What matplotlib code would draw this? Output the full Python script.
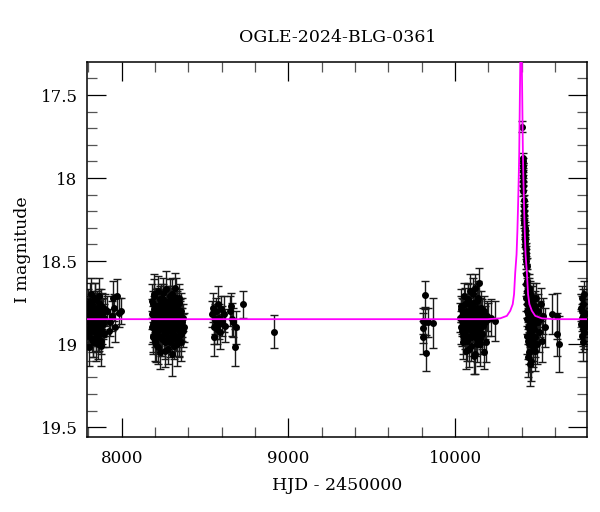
import matplotlib
matplotlib.use('Agg')
import matplotlib.pyplot as plt
import numpy as np
from matplotlib.ticker import MultipleLocator, FuncFormatter

plt.rcParams['font.family'] = ['DejaVu Serif']

#.........OGLE photometry, season by season (HJD-2450000, I mag, error).........
s1_hjd = [7797, 7800, 7802, 7805, 7807, 7809, 7811, 7813, 7815, 7817, 7819, 7821, 7823, 7825, 7827, 7829,
          7831, 7833, 7835, 7837, 7839, 7841, 7843, 7845, 7847, 7849, 7851, 7853, 7855, 7857, 7859, 7861,
          7863, 7865, 7867, 7869, 7871, 7873, 7875, 7877, 7879, 7881, 7883, 7885, 7888, 7891, 7894, 7898,
          7912, 7922, 7932, 7940, 7948, 7955, 7962, 7972, 7984, 7996]
s1_mag = [18.84, 18.91, 18.78, 18.87, 18.95, 18.82, 18.74, 18.88, 18.92, 18.80,
          18.86, 18.97, 18.83, 18.76, 18.90, 18.85, 18.99, 18.81, 18.87, 18.79,
          18.93, 18.84, 18.72, 18.89, 18.96, 18.82, 18.86, 18.78, 18.91, 19.00,
          18.84, 18.80, 18.88, 18.75, 18.94, 18.86, 18.83, 18.90, 18.77, 18.87,
          18.98, 18.82, 18.85, 18.92, 18.80, 18.88, 18.84, 18.79,
          18.80, 18.92, 18.87, 18.83, 18.72, 18.78, 18.90, 18.71, 18.81, 18.80]
s1_err = [0.08, 0.09, 0.07, 0.10, 0.08, 0.09, 0.11, 0.08, 0.07, 0.09,
          0.10, 0.08, 0.09, 0.07, 0.08, 0.10, 0.09, 0.08, 0.11, 0.09,
          0.08, 0.07, 0.09, 0.10, 0.08, 0.09, 0.08, 0.10, 0.07, 0.09,
          0.08, 0.11, 0.09, 0.08, 0.10, 0.07, 0.09, 0.08, 0.10, 0.09,
          0.08, 0.09, 0.07, 0.10, 0.08, 0.09, 0.08, 0.09,
          0.09, 0.10, 0.08, 0.09, 0.10, 0.08, 0.09, 0.10, 0.09, 0.08]
# second run of the same season (several frames per night)
s1b_hjd = [7798, 7801, 7804, 7806, 7810, 7814, 7818, 7822, 7826, 7830, 7834, 7838, 7842, 7846, 7850,
           7854, 7858, 7862, 7866, 7870, 7874, 7878, 7882, 7887, 7893]
s1b_mag = [18.76, 18.93, 18.86, 19.02, 18.81, 18.70, 18.89, 18.84, 18.97, 18.78, 18.92, 18.85, 18.73,
           18.99, 18.88, 18.80, 18.95, 18.83, 18.71, 18.90, 18.86, 19.01, 18.79, 18.87, 18.94]
s1b_err = [0.09, 0.10, 0.08, 0.11, 0.09, 0.10, 0.08, 0.09, 0.11, 0.10, 0.09, 0.08, 0.10, 0.11, 0.09,
           0.08, 0.10, 0.09, 0.11, 0.08, 0.09, 0.12, 0.10, 0.09, 0.08]

s2_hjd = [8182, 8185, 8188, 8191, 8194, 8197, 8200, 8203, 8206, 8209, 8212, 8215, 8218, 8221, 8224, 8227,
          8230, 8233, 8236, 8239, 8242, 8245, 8248, 8251, 8254, 8257, 8260, 8263, 8266, 8269, 8272, 8275,
          8278, 8281, 8284, 8287, 8290, 8293, 8296, 8299, 8302, 8305, 8308, 8311, 8314, 8317, 8320, 8323,
          8326, 8329, 8332, 8335, 8338, 8341, 8344, 8347, 8350, 8353, 8356, 8359, 8362, 8366, 8370, 8376]
s2_mag = [18.82, 18.90, 18.76, 18.95, 18.85, 18.71, 18.88, 18.98, 18.80, 18.86,
          18.93, 18.77, 18.84, 19.02, 18.79, 18.89, 18.73, 18.87, 18.96, 18.83,
          18.78, 18.91, 18.85, 18.69, 18.94, 18.81, 18.88, 19.04, 18.76, 18.86,
          18.92, 18.80, 18.84, 18.97, 18.74, 18.89, 18.83, 18.99, 18.78, 18.87,
          18.70, 18.93, 18.85, 18.81, 19.01, 18.77, 18.90, 18.84, 18.72, 18.95,
          18.86, 18.79, 18.91, 18.83, 18.98, 18.75, 18.88, 18.82, 18.94, 18.80,
          18.87, 18.92, 18.84, 18.90]
s2_err = [0.09, 0.10, 0.08, 0.11, 0.09, 0.10, 0.08, 0.12, 0.09, 0.10,
          0.08, 0.11, 0.09, 0.10, 0.12, 0.09, 0.08, 0.10, 0.11, 0.09,
          0.10, 0.08, 0.12, 0.09, 0.10, 0.11, 0.09, 0.10, 0.08, 0.12,
          0.09, 0.11, 0.10, 0.08, 0.09, 0.12, 0.10, 0.09, 0.11, 0.08,
          0.10, 0.09, 0.12, 0.10, 0.08, 0.11, 0.09, 0.10, 0.12, 0.09,
          0.08, 0.10, 0.11, 0.09, 0.10, 0.08, 0.12, 0.09, 0.10, 0.11,
          0.09, 0.10, 0.08, 0.09]
s2b_hjd = [8184, 8187, 8190, 8193, 8196, 8199, 8202, 8205, 8208, 8211, 8214, 8217, 8220, 8223, 8226,
           8229, 8232, 8235, 8238, 8241, 8244, 8247, 8250, 8253, 8256, 8259, 8262, 8265, 8268, 8271,
           8274, 8277, 8280, 8283, 8286, 8289, 8292, 8295, 8298, 8301, 8304, 8307, 8310, 8313, 8316,
           8319, 8322, 8325, 8328, 8331, 8334, 8337, 8340, 8343, 8346, 8349, 8352, 8355, 8358, 8364]
s2b_mag = [18.74, 18.96, 18.88, 18.79, 18.70, 18.92, 18.84, 19.00, 18.77, 18.89,
           18.83, 18.68, 18.95, 18.86, 18.80, 19.05, 18.90, 18.75, 18.87, 18.82,
           18.97, 18.73, 18.85, 18.91, 18.79, 18.99, 18.84, 18.67, 18.93, 18.81,
           18.88, 19.03, 18.76, 18.86, 18.90, 18.71, 18.96, 18.83, 18.79, 19.06,
           18.87, 18.74, 18.92, 18.85, 18.80, 18.97, 18.66, 18.89, 18.83, 19.00,
           18.78, 18.91, 18.86, 18.72, 18.95, 18.84, 18.81, 18.99, 18.88, 18.85]
s2b_err = [0.10, 0.09, 0.11, 0.08, 0.12, 0.10, 0.09, 0.11, 0.10, 0.13,
           0.10, 0.09, 0.11, 0.08, 0.12, 0.10, 0.09, 0.11, 0.10, 0.13,
           0.10, 0.09, 0.11, 0.08, 0.12, 0.10, 0.09, 0.11, 0.10, 0.13,
           0.10, 0.09, 0.11, 0.08, 0.12, 0.10, 0.09, 0.11, 0.10, 0.13,
           0.10, 0.09, 0.11, 0.08, 0.12, 0.10, 0.09, 0.11, 0.10, 0.13,
           0.10, 0.09, 0.11, 0.08, 0.12, 0.10, 0.09, 0.11, 0.10, 0.13]

s3_hjd = [8542, 8547, 8552, 8555, 8560, 8564, 8568, 8572, 8577, 8582, 8587, 8592, 8598, 8604, 8612, 8620,
          8652, 8658, 8664, 8670, 8680, 8686, 8730]
s3_mag = [18.82, 18.78, 18.90, 18.96, 18.85, 18.80, 18.87, 18.91, 18.76, 18.84,
          18.88, 18.93, 18.79, 18.86, 18.82, 18.89, 18.80, 18.77, 18.85, 18.87,
          19.02, 18.90, 18.76]
s3_err = [0.08, 0.09, 0.10, 0.11, 0.09, 0.08, 0.10, 0.09, 0.11, 0.08,
          0.09, 0.10, 0.08, 0.09, 0.11, 0.10, 0.09, 0.08, 0.10, 0.09,
          0.11, 0.10, 0.08]

s4_hjd = [8914]
s4_mag = [18.925]
s4_err = [0.10]

s5_hjd = [9806, 9808, 9810, 9820, 9822, 9824, 9840, 9866]
s5_mag = [18.86, 18.905, 18.96, 18.705, 18.865, 19.055, 18.87, 18.875]
s5_err = [0.08, 0.09, 0.10, 0.085, 0.09, 0.11, 0.09, 0.15]

s6_hjd = [10030, 10034, 10038, 10042, 10046, 10050, 10054, 10058, 10062, 10066, 10070,
          10073, 10076, 10079, 10082, 10085, 10088, 10091, 10094, 10097, 10100, 10103, 10106, 10109, 10112,
          10115, 10118, 10121, 10124, 10127, 10130, 10133, 10136, 10139, 10142, 10145, 10148, 10151, 10154,
          10157, 10160, 10164, 10168, 10172, 10176, 10180, 10185, 10190, 10200, 10215, 10242]
s6_mag = [18.84, 18.79, 18.90, 18.86, 18.95, 18.81, 18.88, 18.76, 18.92, 18.85,
          18.98, 18.83, 18.73, 18.89, 18.87, 19.03, 18.80, 18.91, 18.84, 18.77,
          18.96, 18.86, 18.82, 18.70, 18.93, 18.88, 19.06, 18.79, 18.85, 18.90,
          18.74, 18.97, 18.83, 18.87, 18.63, 18.92, 18.81, 19.00, 18.86, 18.78,
          18.94, 18.84, 18.89, 19.05, 18.80, 18.87, 18.99, 18.83, 18.85, 18.84,
          18.86]
s6_err = [0.09, 0.08, 0.10, 0.09, 0.11, 0.08, 0.09, 0.10, 0.08, 0.09,
          0.12, 0.09, 0.10, 0.08, 0.09, 0.11, 0.10, 0.08, 0.09, 0.10,
          0.11, 0.09, 0.08, 0.10, 0.09, 0.08, 0.12, 0.10, 0.09, 0.08,
          0.10, 0.09, 0.11, 0.08, 0.09, 0.10, 0.09, 0.13, 0.08, 0.10,
          0.09, 0.11, 0.08, 0.10, 0.09, 0.10, 0.12, 0.09, 0.10, 0.11,
          0.12]
s6b_hjd = [10036, 10040, 10044, 10048, 10052, 10056, 10060, 10064, 10068, 10072, 10075, 10078, 10081,
           10084, 10087, 10090, 10093, 10096, 10099, 10102, 10105, 10108, 10111, 10114, 10117, 10120,
           10123, 10126, 10129, 10132, 10135, 10138, 10141, 10146, 10152]
s6b_mag = [18.77, 18.92, 18.83, 18.99, 18.71, 18.87, 18.94, 18.80, 19.04, 18.85,
           18.74, 18.90, 18.82, 18.96, 18.68, 18.88, 19.01, 18.79, 18.86, 18.93,
           18.75, 18.84, 19.07, 18.81, 18.89, 18.66, 18.95, 18.83, 18.78, 19.00,
           18.87, 18.72, 18.91, 18.85, 18.97]
s6b_err = [0.10, 0.09, 0.11, 0.10, 0.08, 0.12, 0.09, 0.10, 0.11, 0.09,
           0.10, 0.08, 0.12, 0.09, 0.10, 0.11, 0.09, 0.10, 0.08, 0.12,
           0.09, 0.10, 0.11, 0.09, 0.10, 0.08, 0.12, 0.09, 0.10, 0.11,
           0.09, 0.10, 0.08, 0.12, 0.09]

# the event: bright points on the decline, then the noisy tail
s7_hjd = [10404, 10405, 10406, 10406, 10407, 10407, 10408, 10408, 10409, 10411, 10412, 10413, 10414,
          10415, 10416, 10417, 10418, 10419, 10420, 10421, 10422, 10423, 10424, 10425, 10427, 10429,
          10425, 10428, 10430, 10432, 10434, 10436, 10438, 10440, 10442, 10444,
          10446, 10448, 10450, 10452, 10454, 10456, 10458, 10460, 10462, 10465,
          10468, 10471, 10474, 10477, 10480, 10484, 10488, 10492, 10496, 10500,
          10505, 10510, 10516, 10522, 10530, 10540, 10580, 10610, 10614, 10624]
s7_mag = [17.69, 17.88, 17.90, 17.93, 17.96, 17.99, 18.02, 18.05, 18.08, 18.13, 18.17, 18.20, 18.22,
          18.25, 18.27, 18.30, 18.32, 18.34, 18.36, 18.38, 18.41, 18.43, 18.45, 18.47, 18.50, 18.53,
          18.58, 18.72, 18.62, 18.80, 18.68, 18.90, 18.75, 18.98, 18.66, 18.85,
          19.05, 18.78, 18.92, 18.70, 18.88, 19.10, 18.82, 18.95, 18.74, 18.86,
          19.02, 18.80, 18.91, 18.77, 18.96, 18.84, 18.72, 19.00, 18.87, 18.80,
          18.93, 18.85, 18.76, 18.98, 18.83, 18.90, 18.82, 18.94, 18.83, 19.00]
s7_err = [0.035, 0.03, 0.02, 0.02, 0.02, 0.025, 0.02, 0.025, 0.03, 0.025, 0.03, 0.03, 0.03,
          0.03, 0.03, 0.035, 0.035, 0.03, 0.04, 0.035, 0.04, 0.04, 0.04, 0.045, 0.05, 0.05,
          0.06, 0.08, 0.07, 0.09, 0.08, 0.10, 0.09, 0.11, 0.08, 0.10,
          0.12, 0.09, 0.10, 0.08, 0.11, 0.12, 0.10, 0.11, 0.09, 0.10,
          0.12, 0.10, 0.11, 0.09, 0.12, 0.10, 0.09, 0.12, 0.11, 0.10,
          0.12, 0.11, 0.10, 0.13, 0.11, 0.12, 0.12, 0.13, 0.14, 0.17]
s7b_hjd = [10426, 10429, 10431, 10433, 10435, 10437, 10439, 10441, 10443, 10445, 10447, 10449, 10451,
           10453, 10457, 10461, 10466, 10470, 10476, 10482]
s7b_mag = [18.64, 18.85, 18.76, 18.95, 18.70, 19.08, 18.82, 18.68, 18.90, 19.00, 18.74, 18.87, 19.12,
           18.79, 18.93, 18.84, 18.98, 18.72, 18.88, 19.04]
s7b_err = [0.07, 0.09, 0.08, 0.11, 0.08, 0.12, 0.09, 0.08, 0.10, 0.12, 0.09, 0.10, 0.13,
           0.09, 0.11, 0.10, 0.12, 0.09, 0.10, 0.12]

s8_hjd = [10756, 10758, 10760, 10761, 10762, 10764, 10765, 10766, 10768, 10769, 10770, 10772, 10773,
          10774, 10776, 10778, 10780, 10782]
s8_mag = [18.78, 18.88, 18.72, 18.95, 18.84, 18.80, 18.91, 18.86, 18.76, 18.99,
          18.83, 18.89, 18.70, 18.93, 18.85, 18.81, 18.87, 18.90]
s8_err = [0.08, 0.09, 0.07, 0.10, 0.08, 0.09, 0.10, 0.08, 0.09, 0.11,
          0.08, 0.09, 0.08, 0.10, 0.09, 0.08, 0.09, 0.10]

model_hjd = [7794, 10196, 10271, 10311, 10331, 10346, 10354, 10361, 10369, 10374, 10378, 10382, 10385,
             10387, 10389, 10391.5, 10393, 10396, 10399, 10400.5, 10403, 10405, 10407, 10410, 10414,
             10418, 10423, 10431, 10438, 10446, 10461, 10481, 10521, 10596, 10794]
model_mag = [18.85, 18.85, 18.845, 18.83, 18.80, 18.76, 18.70, 18.57, 18.46, 18.32, 18.17, 18.00, 17.85,
             17.68, 17.50, 17.30, 17.22, 17.05, 17.22, 17.30, 17.50, 17.68, 17.85, 18.00, 18.17,
             18.32, 18.46, 18.57, 18.70, 18.76, 18.80, 18.83, 18.845, 18.85, 18.85]

hjd = np.concatenate([s1_hjd, s1b_hjd, s2_hjd, s2b_hjd, s3_hjd, s4_hjd, s5_hjd,
                      s6_hjd, s6b_hjd, s7_hjd, s7b_hjd, s8_hjd])
mag = np.concatenate([s1_mag, s1b_mag, s2_mag, s2b_mag, s3_mag, s4_mag, s5_mag,
                      s6_mag, s6b_mag, s7_mag, s7b_mag, s8_mag])
err = np.concatenate([s1_err, s1b_err, s2_err, s2b_err, s3_err, s4_err, s5_err,
                      s6_err, s6b_err, s7_err, s7b_err, s8_err])

fig = plt.figure(figsize=(6.0, 5.12), dpi=100)
ax = fig.add_axes([0.1455, 0.147, 0.8335, 0.731])

ax.errorbar(hjd, mag, yerr=err, fmt='o', ms=4.0, color='black', ecolor='#1a1a1a',
            elinewidth=1.0, capsize=2.6, capthick=1.0, zorder=2)
ax.plot(model_hjd, model_mag, color='#ff00ff', lw=1.3, zorder=3)

ax.set_xlim(7794, 10794)
ax.set_ylim(19.558, 17.304)

ax.xaxis.set_major_locator(MultipleLocator(1000))
ax.xaxis.set_minor_locator(MultipleLocator(200))
ax.yaxis.set_major_locator(MultipleLocator(0.5))
ax.yaxis.set_minor_locator(MultipleLocator(0.1))
ax.yaxis.set_major_formatter(FuncFormatter(lambda v, p: '%g' % v))

ax.tick_params(which='both', direction='in', top=True, right=True, labelsize=12, colors='black')
ax.tick_params(which='major', length=13.5, width=0.9)
ax.tick_params(which='minor', length=7, width=0.9, color='#555555')
ax.tick_params(axis='x', which='major', pad=9.5)
ax.tick_params(axis='y', which='major', pad=7)
for s in ax.spines.values():
    s.set_linewidth(1.1)

ax.set_xlabel('HJD - 2450000', fontsize=12.5, labelpad=7)
ax.set_ylabel('I magnitude', fontsize=12.5, labelpad=7)
ax.set_title('OGLE-2024-BLG-0361', fontsize=12.5, pad=15)

fig.savefig('out.png', dpi=100)
